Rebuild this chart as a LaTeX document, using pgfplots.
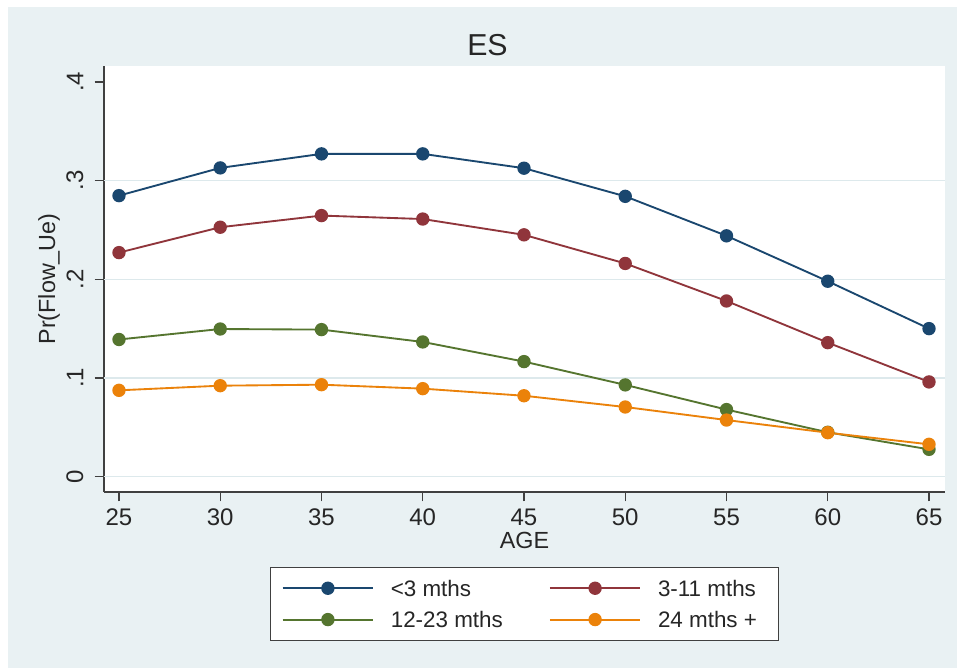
\documentclass[border=0pt]{standalone}
\usepackage{pgfplots}
\pgfplotsset{compat=1.18}
\usepackage{fontspec}
\setmainfont{Liberation Sans}
\definecolor{sblue}{RGB}{26,71,111}
\definecolor{sred}{RGB}{144,53,59}
\definecolor{sgreen}{RGB}{85,117,47}
\definecolor{sorange}{RGB}{235,130,10}
\definecolor{bgc}{HTML}{E9F1F3}
\definecolor{gridc}{HTML}{DDE9EC}
\definecolor{axc}{HTML}{404040}
\begin{document}
\begin{tikzpicture}
\fill[white] (0,0) rectangle (717.75pt,-501pt);
\fill[bgc] (6pt,-5.25pt) rectangle (717.75pt,-501pt);
\begin{axis}[
  at={(78pt,-369pt)}, anchor=south west,
  scale only axis, width=630.75pt, height=319.5pt,
  xmin=24.26, xmax=65.79, ymin=-0.0155, ymax=0.416,
  axis x line*=bottom, axis y line*=left,
  axis line style={line width=1.1pt, color=axc, -},
  axis background/.style={fill=white},
  xtick={25,30,35,40,45,50,55,60,65},
  ytick={0,0.1,0.2,0.3,0.4},
  yticklabels={0,.1,.2,.3,.4},
  extra y ticks={0,0.1,0.2,0.3},
  extra y tick labels={},
  extra y tick style={grid=major, major tick length=0pt, grid style={color=gridc, line width=0.8pt}},
  tick align=outside, major tick length=7pt, minor tick num=0,
  tick style={line width=1.1pt, color=axc},
  /pgf/number format/assume math mode=true,
  ticklabel style={font=\fontsize{18}{21}\selectfont, text=black!85},
  xticklabel style={anchor=north, inner xsep=0pt, inner ysep=5.5pt},
  yticklabel style={rotate=90, anchor=south, inner xsep=0pt, inner ysep=8.25pt},
  xlabel={AGE}, ylabel={Pr(Flow\_Ue)},
  label style={font=\fontsize{17.5}{20}\selectfont, text=black!85},
  xlabel style={at={(axis description cs:0.5,-0.1315)}, anchor=base},
  ylabel style={at={(axis description cs:-0.0654,0.5)}, anchor=center},
  every axis plot/.append style={line width=1.4pt, mark=*, mark size=4.3pt},
  legend columns=2,
  legend style={at={(axis description cs:0.5,-0.176)}, anchor=north,
    draw=axc, fill=white, line width=0.9pt,
    inner xsep=8.25pt, inner ysep=5.75pt,
    font=\fontsize{16.8}{20}\selectfont, text=black!85,
    row sep=4pt, column sep=0pt,
    /tikz/every odd column/.append style={column sep=10.5pt},
    /tikz/every even column/.append style={column sep=10.5pt}},
  legend cell align=left,
  legend image code/.code={\draw[mark repeat=2,mark phase=2,#1,line width=1.4pt] plot coordinates {(0pt,0pt) (34pt,0pt) (68pt,0pt)};},
]
\addplot[color=sblue, mark options={fill=sblue}] coordinates {
(25,0.2847) (30,0.3128) (35,0.327) (40,0.327) (45,0.3125) (50,0.284) (55,0.244) (60,0.198) (65,0.150)};
\addlegendentry{\makebox[106pt][l]{\strut <3 mths}}
\addplot[color=sred, mark options={fill=sred}] coordinates {
(25,0.227) (30,0.2527) (35,0.2645) (40,0.261) (45,0.245) (50,0.216) (55,0.178) (60,0.1358) (65,0.096)};
\addlegendentry{\makebox[80pt][l]{\strut 3-11 mths}}
\addplot[color=sgreen, mark options={fill=sgreen}] coordinates {
(25,0.139) (30,0.1496) (35,0.149) (40,0.1365) (45,0.1166) (50,0.093) (55,0.068) (60,0.045) (65,0.0277)};
\addlegendentry{\makebox[106pt][l]{\strut 12-23 mths}}
\addplot[color=sorange, mark options={fill=sorange}] coordinates {
(25,0.0875) (30,0.0922) (35,0.0932) (40,0.0892) (45,0.082) (50,0.0706) (55,0.0574) (60,0.0446) (65,0.0328)};
\addlegendentry{\makebox[80pt][l]{\strut 24 mths +}}
\end{axis}
\node[anchor=base, font=\fontsize{22.7}{26}\selectfont, text=black!85] at (365.6pt,-41.25pt) {ES};
\end{tikzpicture}
\end{document}
